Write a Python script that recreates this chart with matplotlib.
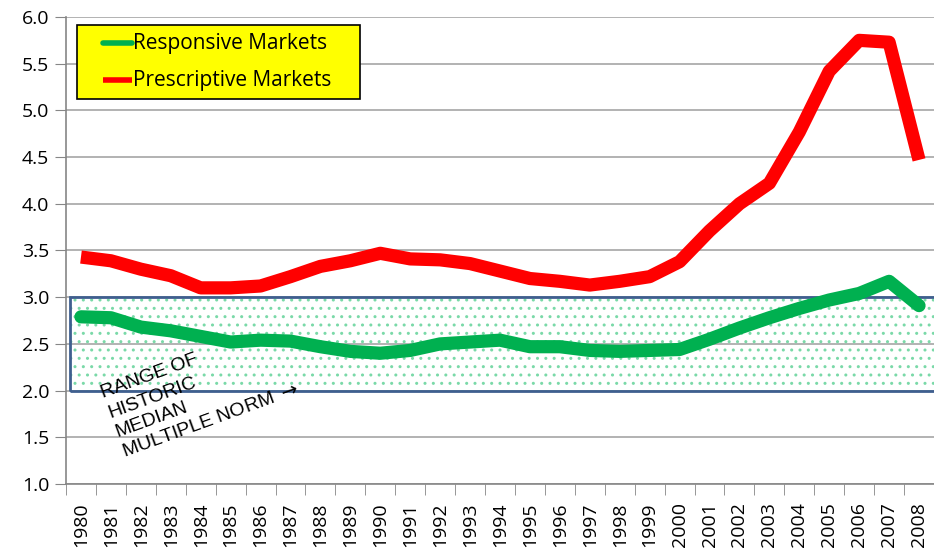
import matplotlib
matplotlib.use("Agg")
import matplotlib.pyplot as plt
from matplotlib.patches import Rectangle
from matplotlib.lines import Line2D
import numpy as np

years = [str(y) for y in range(1980, 2009)]

# Responsive markets (green)
responsive = [2.79, 2.78, 2.68, 2.64, 2.58, 2.52, 2.54, 2.53, 2.47, 2.42,
              2.40, 2.43, 2.50, 2.52, 2.54, 2.47, 2.47, 2.43, 2.42, 2.43,
              2.44, 2.55, 2.67, 2.78, 2.88, 2.97, 3.04, 3.17, 2.91]

# Prescriptive markets (red)
prescriptive = [3.43, 3.39, 3.30, 3.23, 3.10, 3.10, 3.12, 3.22, 3.33, 3.39,
                3.47, 3.41, 3.40, 3.36, 3.28, 3.20, 3.17, 3.13, 3.17, 3.22,
                3.38, 3.71, 4.00, 4.22, 4.77, 5.42, 5.75, 5.73, 4.47]

series_names = ['Responsive Markets', 'Prescriptive Markets']
series_colors = ['#00b050', '#ff0000']

norm_low = 2.0
norm_high = 3.0
range_label = "RANGE OF\nHISTORIC\nMEDIAN\nMULTIPLE NORM $\\rightarrow$"

plt.rcParams['font.family'] = ['Open Sans', 'DejaVu Sans']
plt.rcParams['hatch.linewidth'] = 1.0

W, H = 934, 554
fig = plt.figure(figsize=(W / 100, H / 100), dpi=100)
ax = fig.add_axes([66 / W, 1 - 484 / H, 1 - 66 / W, (484 - 17) / H])

x = np.arange(len(years))

# shaded band for the historic norm
ax.add_patch(Rectangle((-0.37, norm_low), 40, norm_high - norm_low, facecolor='none',
                       edgecolor='#7ad9a8', hatch='..', linewidth=0, zorder=1))
ax.add_patch(Rectangle((-0.37, norm_low), 40, norm_high - norm_low, fill=False,
                       edgecolor='#3f5f8f', linewidth=2, zorder=2))

ax.plot(x, responsive, color=series_colors[0], lw=9.5, solid_joinstyle='round',
        solid_capstyle='round', zorder=4)
ax.plot(x, prescriptive, color=series_colors[1], lw=9.5, solid_joinstyle='round',
        solid_capstyle='butt', zorder=4)

ax.set_ylim(1.0, 6.0)
ax.set_xlim(-0.5, 28.34)
yt = np.arange(1.0, 6.01, 0.5)
ax.set_yticks(yt)
ax.set_yticklabels(['%.1f' % v for v in yt], fontsize=14)
ax.yaxis.grid(True, color='#a6a6a6', lw=1.2)
ax.set_axisbelow(True)

ax.set_xticks(x)
ax.set_xticklabels(years, rotation=90, fontsize=14)
ax.set_xticks(np.arange(-0.5, 29, 1), minor=True)
ax.tick_params(axis='x', which='major', length=0, pad=13)
ax.tick_params(axis='x', which='minor', length=8, color='#868686')
ax.tick_params(axis='y', length=8, color='#868686', pad=4)

for s in ['top', 'right']:
    ax.spines[s].set_visible(False)
for s in ['left', 'bottom']:
    ax.spines[s].set_color('#868686')
    ax.spines[s].set_linewidth(1.2)

ax.text(0.6, 2.05, range_label, rotation=20, fontsize=14,
        family=['Liberation Sans', 'DejaVu Sans'],
        ha='left', va='top', linespacing=1.3, rotation_mode='anchor', zorder=5)

# legend box drawn by hand to match the yellow key
fig.patches.append(Rectangle((77 / W, 1 - 99 / H), (360 - 77) / W, (99 - 25) / H,
                             transform=fig.transFigure, facecolor='#ffff00',
                             edgecolor='black', linewidth=1.2, zorder=10))
for i, (name, col) in enumerate(zip(series_names, series_colors)):
    yy = 1 - (43 + 37 * i) / H
    fig.lines.append(Line2D([103 / W, 132 / W], [yy, yy], transform=fig.transFigure,
                            color=col, lw=4, solid_capstyle='round' if i == 0 else 'butt',
                            zorder=11))
    fig.text(133 / W, yy, name, fontsize=15, ha='left', va='center', zorder=12)

fig.savefig('out.png', dpi=100)
